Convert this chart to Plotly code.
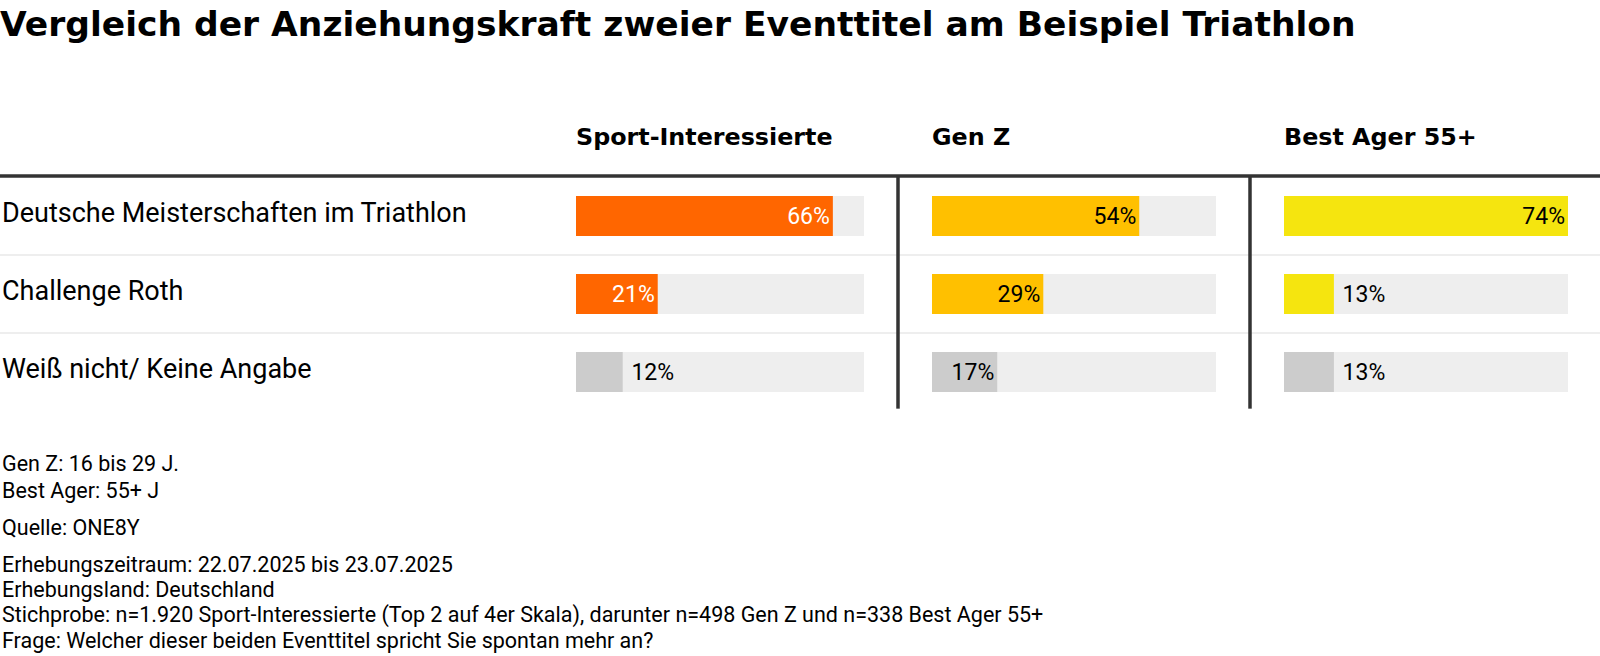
import plotly.graph_objects as go

# data
title = "Vergleich der Anziehungskraft zweier Eventtitel am Beispiel Triathlon"
categories = ["Deutsche Meisterschaften im Triathlon", "Challenge Roth", "Weiß nicht/ Keine Angabe"]
groups = ["Sport-Interessierte", "Gen Z", "Best Ager 55+"]
sport = [66, 21, 12]
genz = [54, 29, 17]
best_ager = [74, 13, 13]
notes = [
    "Gen Z: 16 bis 29 J.",
    "Best Ager: 55+ J",
    "Quelle: ONE8Y",
    "Erhebungszeitraum: 22.07.2025 bis 23.07.2025",
    "Erhebungsland: Deutschland",
    "Stichprobe: n=1.920 Sport-Interessierte (Top 2 auf 4er Skala), darunter n=498 Gen Z und n=338 Best Ager 55+",
    "Frage: Welcher dieser beiden Eventtitel spricht Sie spontan mehr an?",
]

W, H = 1600, 656
FONT = "Roboto"
BOLD = "DejaVu Sans"
values = [sport, genz, best_ager]
colors = ["#ff6600", "#ffc000", "#f5e50f"]
text_colors = ["white", "black", "black"]
gray = "#cccccc"
track = "#eeeeee"
scale_max = max(max(v) for v in values)

# pixel layout
col_x = [(576, 864), (932, 1216), (1284, 1568)]
row_top, row_bot = 177, 411
note_y = [463, 490, 527, 564, 589, 615, 640]


def px_x(p):
    return p / W


def px_y(p):
    return 1 - p / H


fig = go.Figure()

for i, vals in enumerate(values):
    ax = "x" if i == 0 else f"x{i + 1}"
    fill = [colors[i], colors[i], gray]
    tcol = [text_colors[i], text_colors[i], "black"]
    tcol = [c if v > 15 else "black" for c, v in zip(tcol, vals)]
    pos = ["inside" if v > 15 else "outside" for v in vals]
    txt = [f"{v}%" if v > 15 else f"\u00a0{v}%" for v in vals]

    # background track
    fig.add_trace(go.Bar(
        x=[scale_max] * len(categories), y=categories, orientation="h",
        marker=dict(color=track, line_width=0), width=0.513,
        hoverinfo="skip", showlegend=False, xaxis=ax, yaxis="y",
    ))
    fig.add_trace(go.Bar(
        x=vals, y=categories, orientation="h",
        marker=dict(color=fill, line_width=0), width=0.513,
        text=txt, textposition=pos, insidetextanchor="end",
        textfont=dict(family=FONT, size=23, color=tcol),
        cliponaxis=False, constraintext="none",
        showlegend=False, xaxis=ax, yaxis="y",
        hovertemplate="%{y}: %{x}%<extra></extra>",
    ))

layout_axes = {}
for i, (x0, x1) in enumerate(col_x):
    key = "xaxis" if i == 0 else f"xaxis{i + 1}"
    layout_axes[key] = dict(
        domain=[px_x(x0), px_x(x1)], range=[0, scale_max], anchor="y",
        visible=False, fixedrange=True,
    )

annotations = []
# column headers
for i, g in enumerate(groups):
    ref = "x" if i == 0 else f"x{i + 1}"
    annotations.append(dict(
        text=g, xref=f"{ref} domain", x=0, xanchor="left", xshift=-2,
        yref="paper", y=px_y(137), yanchor="middle", showarrow=False,
        font=dict(family=BOLD, size=23.8, color="black", weight="bold"),
    ))
# row labels
for c in categories:
    annotations.append(dict(
        text=c, xref="paper", x=0, xanchor="left",
        yref="y", y=c, yanchor="middle", yshift=3, showarrow=False,
        font=dict(family=FONT, size=27, color="black"),
    ))
# notes
for t, yy in zip(notes, note_y):
    annotations.append(dict(
        text=t, xref="paper", x=0, xanchor="left",
        yref="paper", y=px_y(yy), yanchor="middle", showarrow=False,
        font=dict(family=FONT, size=21.5, color="black"),
    ))

shapes = [
    # thick header rule
    dict(type="line", xref="paper", yref="y domain", x0=0, x1=1, y0=1.004, y1=1.004,
         line=dict(color="#333333", width=3.5)),
]
# light row separators
for k in (0.5, 1.5):
    shapes.append(dict(type="line", xref="paper", yref="y", x0=0, x1=1, y0=k, y1=k,
                       line=dict(color="#eeeeee", width=2), layer="below"))
# vertical column dividers
for xv in (898, 1250):
    shapes.append(dict(type="line", xref="paper", yref="y domain", x0=px_x(xv), x1=px_x(xv),
                       y0=0.01, y1=1.004, line=dict(color="#333333", width=3.5)))

fig.update_layout(
    width=W, height=H,
    margin=dict(l=0, r=0, t=0, b=0),
    paper_bgcolor="white", plot_bgcolor="rgba(0,0,0,0)",
    barmode="overlay",
    title=dict(text=title, x=0, xanchor="left", xref="paper",
               y=px_y(24), yanchor="middle", yref="paper",
               font=dict(family=BOLD, size=34.5, color="black", weight="bold")),
    yaxis=dict(domain=[px_y(row_bot), px_y(row_top)], range=[2.5, -0.5],
               visible=False, fixedrange=True, categoryorder="array", categoryarray=categories),
    annotations=annotations,
    shapes=shapes,
    font=dict(family=FONT),
    **layout_axes,
)

fig.write_html("out.html", config={"displayModeBar": False},
               post_script="document.body.style.margin='0';")
